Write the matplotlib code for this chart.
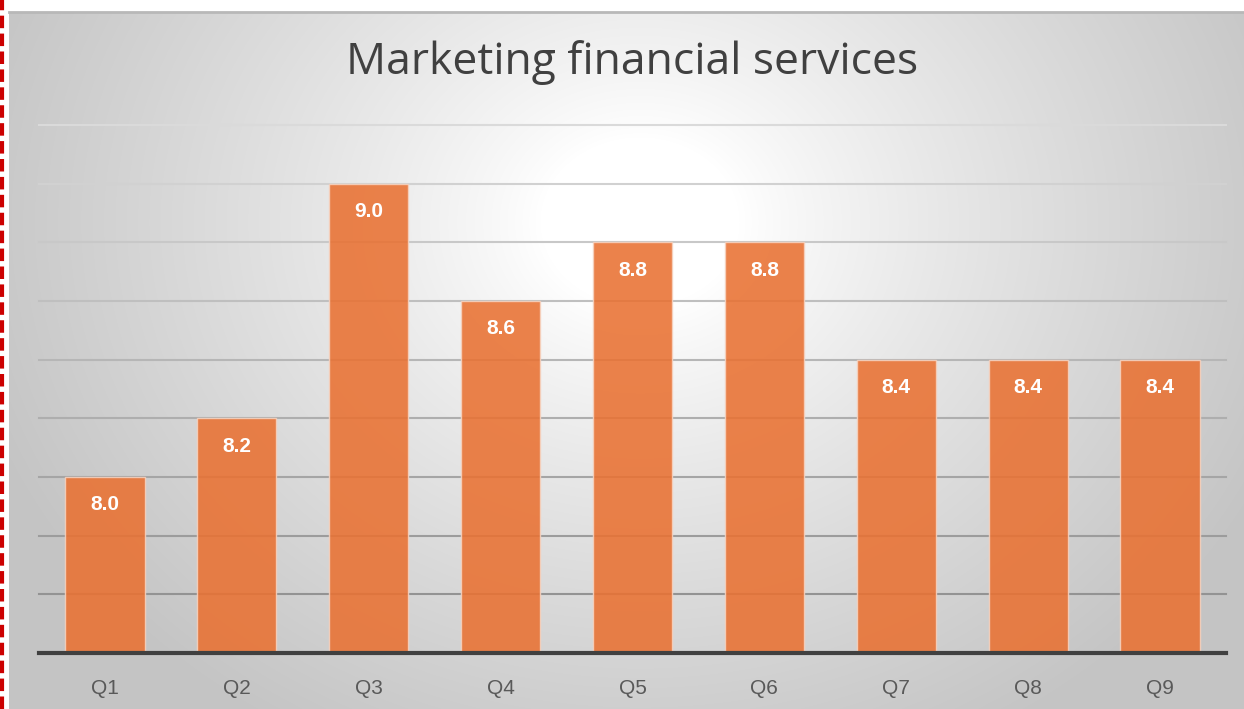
import matplotlib.pyplot as plt
import numpy as np
from matplotlib.colors import to_rgb

categories = ["Q1", "Q2", "Q3", "Q4", "Q5", "Q6", "Q7", "Q8", "Q9"]
values = [8.0, 8.2, 9.0, 8.6, 8.8, 8.8, 8.4, 8.4, 8.4]
y_min, y_max, y_step = 7.4, 9.2, 0.2

W, H = 1244, 709
fig = plt.figure(figsize=(W / 100, H / 100), dpi=100)
fig.patch.set_facecolor("white")

# chart box with radial gradient background
bx0, by_top = 9, 12
bg = fig.add_axes([bx0 / W, 0, (W - bx0) / W, (H - by_top) / H])
yy, xx = np.mgrid[0:H - by_top, 0:W - bx0]
cx, cy = 640 - bx0, 210
r = np.sqrt(((xx - cx) / 1.0) ** 2 + ((yy - cy) / 0.85) ** 2)
t = np.clip((r - 100) / 600, 0, 1) ** 0.85
white = np.array([1.0, 1.0, 1.0])
edge = np.array(to_rgb("#c4c4c4"))
img = white[None, None, :] * (1 - t[..., None]) + edge[None, None, :] * t[..., None]
bg.imshow(img, aspect="auto", interpolation="bilinear")
bg.set_xticks([])
bg.set_yticks([])
for s in ["left", "right", "bottom"]:
    bg.spines[s].set_visible(False)
bg.spines["top"].set_color("#b8b8b8")
bg.spines["top"].set_linewidth(2)

# red dashed border on the far left
fig.add_artist(plt.Line2D([1.5 / W, 1.5 / W], [0, 1], color="#cc0000",
                          linewidth=3, linestyle=(0, (3, 1.3)),
                          transform=fig.transFigure))

# plot area
px0, px1, py_top, py_bot = 39, 1226, 125, 653
ax = fig.add_axes([px0 / W, (H - py_bot) / H, (px1 - px0) / W, (py_bot - py_top) / H])
ax.patch.set_alpha(0)
ax.set_ylim(y_min, y_max)
ax.set_xlim(-0.5, len(categories) - 0.5)

# gridlines darker toward the bottom
levels = np.arange(y_min + y_step, y_max + y_step / 2, y_step)
light = np.array(to_rgb("#dadada"))
dark = np.array(to_rgb("#8a8a8a"))
for lv in levels:
    f = (y_max - lv) / (y_max - y_min)
    c = light * (1 - f) + dark * f
    ax.axhline(lv, color=c, linewidth=1.5, zorder=1, clip_on=False)

x = np.arange(len(categories))
bars = ax.bar(x, values, width=0.6, bottom=0, color="#E97132", alpha=0.88,
              edgecolor="#f6d2bf", linewidth=1.0, zorder=2)

ax.axhline(y_min, color="#404040", linewidth=3, zorder=3, clip_on=False)

for xi, v in zip(x, values):
    ax.text(xi, v - 0.095, f"{v:.1f}", ha="center", va="center", color="white",
            fontsize=15, fontweight="bold", family="Liberation Sans", zorder=4)

ax.set_xticks(x)
ax.set_xticklabels(categories, fontsize=15, color="#595959", family="Liberation Sans")
ax.tick_params(axis="x", length=0, pad=19)
ax.set_yticks([])
for s in ax.spines.values():
    s.set_visible(False)

fig.text(632 / W, 1 - 63 / H, "Marketing financial services", ha="center", va="center",
         fontsize=32, color="#404040", family="Open Sans")

fig.savefig("out.png", dpi=100)
